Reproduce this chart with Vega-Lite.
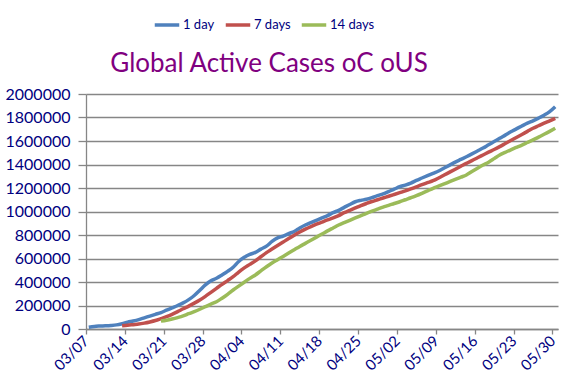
{
  "$schema": "https://vega.github.io/schema/vega-lite/v6.json",
  "width": 472,
  "height": 235,
  "autosize": "none",
  "padding": {"left": 86, "top": 94, "right": 19, "bottom": 55},
  "background": "white",
  "title": {"text": "Global Active Cases oC oUS", "color": "#800080", "font": "Lato", "fontSize": 26, "fontWeight": "normal", "anchor": "middle", "dx": -53, "offset": -66},
  "data": {"values": [
    {"date": "2020-03-07T12:00:00Z", "1 day": 15000, "7 days": null, "14 days": null},
    {"date": "2020-03-08T12:00:00Z", "1 day": 22000, "7 days": null, "14 days": null},
    {"date": "2020-03-09T12:00:00Z", "1 day": 25000, "7 days": null, "14 days": null},
    {"date": "2020-03-10T12:00:00Z", "1 day": 27000, "7 days": null, "14 days": null},
    {"date": "2020-03-11T12:00:00Z", "1 day": 30000, "7 days": null, "14 days": null},
    {"date": "2020-03-12T12:00:00Z", "1 day": 35000, "7 days": null, "14 days": null},
    {"date": "2020-03-13T12:00:00Z", "1 day": 45000, "7 days": 28000, "14 days": null},
    {"date": "2020-03-14T12:00:00Z", "1 day": 58000, "7 days": 32000, "14 days": null},
    {"date": "2020-03-15T12:00:00Z", "1 day": 68000, "7 days": 37000, "14 days": null},
    {"date": "2020-03-16T12:00:00Z", "1 day": 80000, "7 days": 42000, "14 days": null},
    {"date": "2020-03-17T12:00:00Z", "1 day": 95000, "7 days": 50000, "14 days": null},
    {"date": "2020-03-18T12:00:00Z", "1 day": 110000, "7 days": 60000, "14 days": null},
    {"date": "2020-03-19T12:00:00Z", "1 day": 125000, "7 days": 72000, "14 days": null},
    {"date": "2020-03-20T12:00:00Z", "1 day": 140000, "7 days": 88000, "14 days": 68000},
    {"date": "2020-03-21T12:00:00Z", "1 day": 160000, "7 days": 105000, "14 days": 75000},
    {"date": "2020-03-22T12:00:00Z", "1 day": 180000, "7 days": 125000, "14 days": 85000},
    {"date": "2020-03-23T12:00:00Z", "1 day": 200000, "7 days": 148000, "14 days": 97000},
    {"date": "2020-03-24T12:00:00Z", "1 day": 222000, "7 days": 172000, "14 days": 111000},
    {"date": "2020-03-25T12:00:00Z", "1 day": 250000, "7 days": 195000, "14 days": 130000},
    {"date": "2020-03-26T12:00:00Z", "1 day": 285000, "7 days": 220000, "14 days": 148000},
    {"date": "2020-03-27T12:00:00Z", "1 day": 330000, "7 days": 247000, "14 days": 168000},
    {"date": "2020-03-28T12:00:00Z", "1 day": 375000, "7 days": 278000, "14 days": 190000},
    {"date": "2020-03-29T12:00:00Z", "1 day": 410000, "7 days": 312000, "14 days": 212000},
    {"date": "2020-03-30T12:00:00Z", "1 day": 432000, "7 days": 346000, "14 days": 232000},
    {"date": "2020-03-31T12:00:00Z", "1 day": 460000, "7 days": 380000, "14 days": 262000},
    {"date": "2020-04-01T12:00:00Z", "1 day": 490000, "7 days": 412000, "14 days": 295000},
    {"date": "2020-04-02T12:00:00Z", "1 day": 525000, "7 days": 445000, "14 days": 332000},
    {"date": "2020-04-03T12:00:00Z", "1 day": 575000, "7 days": 485000, "14 days": 365000},
    {"date": "2020-04-04T12:00:00Z", "1 day": 610000, "7 days": 520000, "14 days": 398000},
    {"date": "2020-04-05T12:00:00Z", "1 day": 635000, "7 days": 550000, "14 days": 431000},
    {"date": "2020-04-06T12:00:00Z", "1 day": 652000, "7 days": 580000, "14 days": 460000},
    {"date": "2020-04-07T12:00:00Z", "1 day": 680000, "7 days": 615000, "14 days": 495000},
    {"date": "2020-04-08T12:00:00Z", "1 day": 705000, "7 days": 650000, "14 days": 530000},
    {"date": "2020-04-09T12:00:00Z", "1 day": 745000, "7 days": 680000, "14 days": 562000},
    {"date": "2020-04-10T12:00:00Z", "1 day": 775000, "7 days": 710000, "14 days": 590000},
    {"date": "2020-04-11T12:00:00Z", "1 day": 790000, "7 days": 740000, "14 days": 618000},
    {"date": "2020-04-12T12:00:00Z", "1 day": 812000, "7 days": 770000, "14 days": 647000},
    {"date": "2020-04-13T12:00:00Z", "1 day": 830000, "7 days": 798000, "14 days": 675000},
    {"date": "2020-04-14T12:00:00Z", "1 day": 860000, "7 days": 825000, "14 days": 703000},
    {"date": "2020-04-15T12:00:00Z", "1 day": 885000, "7 days": 850000, "14 days": 729000},
    {"date": "2020-04-16T12:00:00Z", "1 day": 905000, "7 days": 872000, "14 days": 755000},
    {"date": "2020-04-17T12:00:00Z", "1 day": 925000, "7 days": 892000, "14 days": 782000},
    {"date": "2020-04-18T12:00:00Z", "1 day": 945000, "7 days": 910000, "14 days": 808000},
    {"date": "2020-04-19T12:00:00Z", "1 day": 965000, "7 days": 928000, "14 days": 835000},
    {"date": "2020-04-20T12:00:00Z", "1 day": 990000, "7 days": 945000, "14 days": 860000},
    {"date": "2020-04-21T12:00:00Z", "1 day": 1010000, "7 days": 965000, "14 days": 885000},
    {"date": "2020-04-22T12:00:00Z", "1 day": 1035000, "7 days": 990000, "14 days": 905000},
    {"date": "2020-04-23T12:00:00Z", "1 day": 1060000, "7 days": 1010000, "14 days": 925000},
    {"date": "2020-04-24T12:00:00Z", "1 day": 1083000, "7 days": 1030000, "14 days": 945000},
    {"date": "2020-04-25T12:00:00Z", "1 day": 1095000, "7 days": 1050000, "14 days": 965000},
    {"date": "2020-04-26T12:00:00Z", "1 day": 1104000, "7 days": 1068000, "14 days": 985000},
    {"date": "2020-04-27T12:00:00Z", "1 day": 1118000, "7 days": 1085000, "14 days": 1003000},
    {"date": "2020-04-28T12:00:00Z", "1 day": 1135000, "7 days": 1100000, "14 days": 1020000},
    {"date": "2020-04-29T12:00:00Z", "1 day": 1150000, "7 days": 1115000, "14 days": 1037000},
    {"date": "2020-04-30T12:00:00Z", "1 day": 1170000, "7 days": 1130000, "14 days": 1052000},
    {"date": "2020-05-01T12:00:00Z", "1 day": 1190000, "7 days": 1145000, "14 days": 1068000},
    {"date": "2020-05-02T12:00:00Z", "1 day": 1211000, "7 days": 1160000, "14 days": 1083000},
    {"date": "2020-05-03T12:00:00Z", "1 day": 1225000, "7 days": 1175000, "14 days": 1100000},
    {"date": "2020-05-04T12:00:00Z", "1 day": 1242000, "7 days": 1192000, "14 days": 1117000},
    {"date": "2020-05-05T12:00:00Z", "1 day": 1265000, "7 days": 1210000, "14 days": 1135000},
    {"date": "2020-05-06T12:00:00Z", "1 day": 1285000, "7 days": 1228000, "14 days": 1155000},
    {"date": "2020-05-07T12:00:00Z", "1 day": 1305000, "7 days": 1245000, "14 days": 1176000},
    {"date": "2020-05-08T12:00:00Z", "1 day": 1325000, "7 days": 1262000, "14 days": 1197000},
    {"date": "2020-05-09T12:00:00Z", "1 day": 1345000, "7 days": 1285000, "14 days": 1216000},
    {"date": "2020-05-10T12:00:00Z", "1 day": 1370000, "7 days": 1310000, "14 days": 1235000},
    {"date": "2020-05-11T12:00:00Z", "1 day": 1395000, "7 days": 1335000, "14 days": 1254000},
    {"date": "2020-05-12T12:00:00Z", "1 day": 1420000, "7 days": 1360000, "14 days": 1273000},
    {"date": "2020-05-13T12:00:00Z", "1 day": 1443000, "7 days": 1385000, "14 days": 1292000},
    {"date": "2020-05-14T12:00:00Z", "1 day": 1466000, "7 days": 1410000, "14 days": 1311000},
    {"date": "2020-05-15T12:00:00Z", "1 day": 1490000, "7 days": 1433000, "14 days": 1340000},
    {"date": "2020-05-16T12:00:00Z", "1 day": 1515000, "7 days": 1457000, "14 days": 1368000},
    {"date": "2020-05-17T12:00:00Z", "1 day": 1540000, "7 days": 1481000, "14 days": 1395000},
    {"date": "2020-05-18T12:00:00Z", "1 day": 1568000, "7 days": 1505000, "14 days": 1420000},
    {"date": "2020-05-19T12:00:00Z", "1 day": 1595000, "7 days": 1528000, "14 days": 1450000},
    {"date": "2020-05-20T12:00:00Z", "1 day": 1623000, "7 days": 1552000, "14 days": 1481000},
    {"date": "2020-05-21T12:00:00Z", "1 day": 1650000, "7 days": 1578000, "14 days": 1503000},
    {"date": "2020-05-22T12:00:00Z", "1 day": 1678000, "7 days": 1604000, "14 days": 1525000},
    {"date": "2020-05-23T12:00:00Z", "1 day": 1703000, "7 days": 1630000, "14 days": 1545000},
    {"date": "2020-05-24T12:00:00Z", "1 day": 1728000, "7 days": 1656000, "14 days": 1565000},
    {"date": "2020-05-25T12:00:00Z", "1 day": 1752000, "7 days": 1682000, "14 days": 1587000},
    {"date": "2020-05-26T12:00:00Z", "1 day": 1772000, "7 days": 1708000, "14 days": 1609000},
    {"date": "2020-05-27T12:00:00Z", "1 day": 1795000, "7 days": 1730000, "14 days": 1633000},
    {"date": "2020-05-28T12:00:00Z", "1 day": 1820000, "7 days": 1752000, "14 days": 1657000},
    {"date": "2020-05-29T12:00:00Z", "1 day": 1850000, "7 days": 1772000, "14 days": 1682000},
    {"date": "2020-05-30T12:00:00Z", "1 day": 1892000, "7 days": 1793000, "14 days": 1708000}
  ]},
  "transform": [{"fold": ["1 day", "7 days", "14 days"], "as": ["series", "value"]}],
  "mark": {"type": "line", "strokeWidth": 3.5, "interpolate": "monotone"},
  "encoding": {
    "x": {
      "field": "date", "type": "temporal",
      "scale": {"type": "utc", "domain": [{"year": 2020, "month": 3, "date": 7, "utc": true}, {"year": 2020, "month": 5, "date": 31, "utc": true}]},
      "axis": {
        "title": null, "grid": false, "format": "%m/%d",
        "values": [
          {"year": 2020, "month": 3, "date": 7, "utc": true},
          {"year": 2020, "month": 3, "date": 14, "utc": true},
          {"year": 2020, "month": 3, "date": 21, "utc": true},
          {"year": 2020, "month": 3, "date": 28, "utc": true},
          {"year": 2020, "month": 4, "date": 4, "utc": true},
          {"year": 2020, "month": 4, "date": 11, "utc": true},
          {"year": 2020, "month": 4, "date": 18, "utc": true},
          {"year": 2020, "month": 4, "date": 25, "utc": true},
          {"year": 2020, "month": 5, "date": 2, "utc": true},
          {"year": 2020, "month": 5, "date": 9, "utc": true},
          {"year": 2020, "month": 5, "date": 16, "utc": true},
          {"year": 2020, "month": 5, "date": 23, "utc": true},
          {"year": 2020, "month": 5, "date": 30, "utc": true}
        ],
        "labelAngle": -45, "labelAlign": "right", "labelBaseline": "middle",
        "labelFont": "Lato", "labelFontSize": 15, "labelColor": "#000080", "labelPadding": 4,
        "tickSize": 5, "tickColor": "#868686", "domainColor": "#868686", "domainWidth": 1.3, "tickWidth": 1.3,
        "labelOverlap": false, "labelFlush": false
      }
    },
    "y": {
      "field": "value", "type": "quantitative",
      "scale": {"domain": [0, 2000000], "nice": false},
      "axis": {
        "title": null, "format": "d",
        "values": [0, 200000, 400000, 600000, 800000, 1000000, 1200000, 1400000, 1600000, 1800000, 2000000],
        "grid": true, "gridColor": "#868686", "gridWidth": 1.3, "gridOpacity": 1,
        "domainColor": "#868686", "domainWidth": 1.3, "tickColor": "#868686", "tickWidth": 1.3, "tickSize": 8,
        "labelFont": "Lato", "labelFontSize": 16, "labelColor": "#000080", "labelPadding": 8,
        "labelOverlap": false, "labelFlush": false
      }
    },
    "color": {
      "field": "series", "type": "nominal",
      "scale": {"domain": ["1 day", "7 days", "14 days"], "range": ["#4F81BD", "#C0504D", "#9BBB59"]},
      "legend": {
        "orient": "none", "legendX": 67, "legendY": -83, "direction": "horizontal", "title": null,
        "symbolType": "stroke", "symbolStrokeWidth": 3.5, "symbolSize": 600,
        "labelFont": "Lato", "labelFontSize": 13, "labelColor": "#000080",
        "columnPadding": 3, "labelOffset": 2, "padding": 0
      }
    }
  },
  "config": {"view": {"stroke": null}, "font": "Lato"}
}
